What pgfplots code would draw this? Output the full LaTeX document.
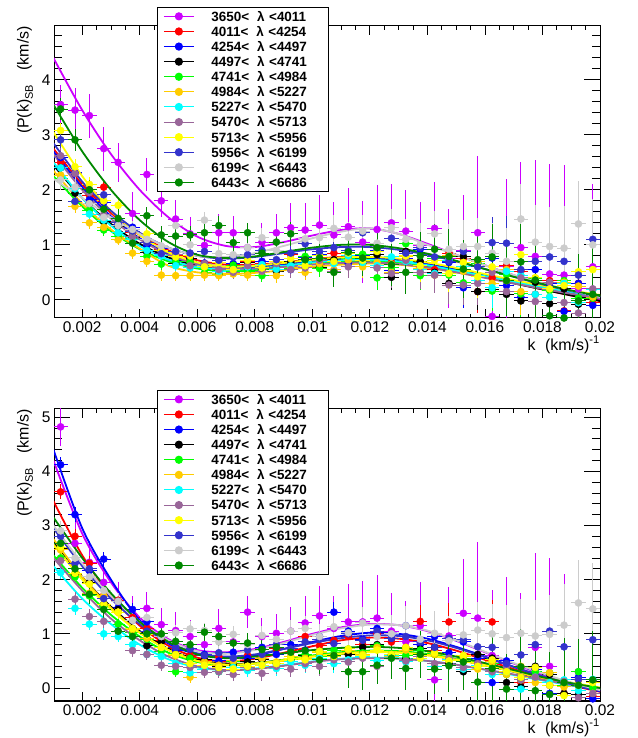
\documentclass[border=0pt]{standalone}
\usepackage{fontspec}
\setmainfont{Liberation Sans}
\usepackage{pgfplots}
\usepackage{pgfplotstable}
\pgfplotsset{compat=1.18}
\definecolor{cM}{RGB}{204,0,255}
\definecolor{cR}{RGB}{255,0,0}
\definecolor{cB}{RGB}{0,0,255}
\definecolor{cK}{RGB}{0,0,0}
\definecolor{cG}{RGB}{0,255,0}
\definecolor{cO}{RGB}{255,204,0}
\definecolor{cC}{RGB}{0,255,255}
\definecolor{cP}{RGB}{153,102,153}
\definecolor{cY}{RGB}{255,255,0}
\definecolor{cD}{RGB}{51,51,204}
\definecolor{cGr}{RGB}{204,204,204}
\definecolor{cDG}{RGB}{0,136,0}

\pgfplotstableread{
k tM tR tB tK tG tO tC tP tY tD tGr tDG bM bR bB bK bG bO bC bP bY bD bGr bDG eM e8 e9 e10 e12 e13
0.00125 3.55 2.50 2.59 2.40 2.21 2.27 2.40 2.62 3.08 2.91 2.18 3.47 4.82 3.62 4.12 2.58 2.40 2.55 2.13 2.35 2.60 2.80 2.90 2.67 0.35 0.12 0.14 0.15 0.18 0.20
0.00175 3.45 2.30 2.31 1.94 1.78 1.70 2.02 2.30 2.42 1.79 2.05 2.91 2.67 2.80 3.20 2.10 2.05 2.12 1.47 1.64 2.12 2.30 2.40 2.20 0.40 0.12 0.14 0.15 0.18 0.20
0.00225 3.35 1.90 1.82 1.75 1.63 1.40 1.56 1.95 2.10 2.00 1.75 2.00 2.32 2.30 2.17 1.95 1.70 1.75 1.18 1.32 1.92 2.20 2.05 1.73 0.40 0.11 0.13 0.14 0.17 0.18
0.00275 2.75 2.05 1.77 1.42 1.27 1.32 1.45 1.55 1.80 1.91 1.50 1.65 1.95 1.71 2.38 1.55 1.50 1.70 1.00 1.23 1.55 1.65 1.80 1.45 0.40 0.11 0.13 0.14 0.17 0.18
0.00325 2.50 1.40 1.37 1.34 1.16 1.09 1.22 1.42 1.72 1.40 1.35 1.48 1.60 1.62 1.48 1.45 1.18 1.40 0.95 1.05 1.40 1.60 1.60 1.05 0.35 0.10 0.12 0.13 0.16 0.17
0.00375 1.57 1.22 1.32 1.14 1.12 0.85 1.10 1.15 1.25 1.25 1.28 1.03 1.30 1.30 1.45 1.10 1.02 1.08 0.80 0.69 1.10 1.25 1.25 0.95 0.40 0.10 0.12 0.13 0.16 0.17
0.00425 2.28 1.05 0.99 0.86 0.79 0.70 0.90 1.05 1.20 1.05 1.10 1.53 1.47 1.10 1.22 0.78 0.90 0.92 0.62 0.62 0.98 1.05 1.30 1.00 0.30 0.10 0.11 0.12 0.14 0.16
0.00475 1.80 0.92 0.93 0.89 0.65 0.45 0.80 0.85 0.90 0.84 0.98 1.18 1.17 0.88 0.95 0.85 0.68 0.75 0.58 0.42 0.75 0.95 0.95 1.00 0.30 0.10 0.11 0.12 0.14 0.16
0.00525 1.47 0.80 0.72 0.67 0.70 0.44 0.62 0.82 0.78 0.88 1.35 1.16 1.06 0.72 0.70 0.62 0.30 0.60 0.45 0.40 0.62 0.75 1.02 0.86 0.35 0.10 0.11 0.12 0.14 0.16
0.00575 1.20 0.70 0.76 0.75 0.69 0.44 0.58 0.62 0.80 0.85 1.00 1.18 0.95 0.60 0.72 0.55 0.55 0.20 0.28 0.38 0.45 0.72 1.09 0.80 0.30 0.10 0.11 0.12 0.14 0.16
0.00625 0.99 0.62 0.67 0.62 0.49 0.45 0.62 0.66 0.60 0.88 1.45 1.22 0.80 0.50 0.62 0.52 0.42 0.48 0.35 0.29 0.42 0.60 1.06 1.03 0.30 0.10 0.11 0.12 0.14 0.16
0.00675 1.22 0.72 0.51 0.46 0.46 0.44 0.52 0.55 0.68 0.72 0.84 1.35 1.10 0.58 0.50 0.40 0.30 0.42 0.30 0.30 0.38 0.65 0.85 0.95 0.35 0.10 0.12 0.13 0.16 0.17
0.00725 1.22 0.58 0.66 0.63 0.63 0.47 0.55 0.50 0.55 0.78 0.82 1.04 0.85 0.45 0.66 0.42 0.48 0.50 0.38 0.25 0.35 0.55 0.99 0.83 0.30 0.10 0.12 0.13 0.16 0.17
0.00775 0.95 0.70 0.56 0.68 0.52 0.45 0.60 0.62 0.72 0.82 0.95 1.22 1.40 0.60 0.55 0.48 0.40 0.40 0.32 0.38 0.40 0.70 0.80 0.83 0.30 0.11 0.13 0.14 0.17 0.18
0.00825 1.05 0.66 0.70 0.55 0.44 0.52 0.64 0.52 0.58 0.90 1.13 0.85 0.95 0.52 0.75 0.52 0.55 0.55 0.42 0.27 0.42 0.62 0.97 0.71 0.35 0.12 0.14 0.15 0.18 0.20
0.00875 1.22 0.60 0.65 0.52 0.66 0.44 0.56 0.66 0.70 0.73 0.90 1.05 1.01 0.72 0.62 0.45 0.45 0.48 0.36 0.40 0.45 0.80 0.90 0.75 0.35 0.13 0.14 0.16 0.19 0.21
0.00925 1.31 0.82 0.55 0.69 0.57 0.58 0.62 0.55 0.75 0.85 1.20 1.20 1.05 0.65 0.80 0.52 0.52 0.58 0.48 0.35 0.55 0.72 1.05 0.66 0.45 0.14 0.15 0.17 0.20 0.22
0.00975 1.27 0.74 0.77 0.74 0.79 0.50 0.70 0.58 0.62 1.02 1.11 0.73 1.20 0.95 0.70 0.60 0.62 0.55 0.42 0.45 0.52 0.85 1.10 0.69 0.50 0.14 0.16 0.18 0.22 0.23
0.01025 1.36 0.66 0.83 0.59 0.57 0.66 0.75 0.72 0.80 0.88 1.13 0.76 1.33 0.78 0.95 0.68 0.58 0.65 0.55 0.40 0.68 0.90 0.95 0.52 0.55 0.16 0.18 0.20 0.24 0.26
0.01075 1.18 0.85 0.71 0.73 0.52 0.55 0.66 0.52 0.70 0.95 1.30 0.50 1.10 0.88 1.40 0.58 0.70 0.60 0.45 0.52 0.58 0.82 1.13 0.60 0.60 0.17 0.19 0.21 0.25 0.27
0.01125 1.33 0.80 0.66 0.84 0.75 0.72 0.80 0.60 0.85 0.90 1.14 0.87 1.22 0.95 1.05 0.62 0.72 0.70 0.52 0.48 0.72 1.00 1.02 0.30 0.70 0.18 0.21 0.23 0.28 0.30
0.01175 1.05 0.70 0.81 0.66 0.83 0.60 0.68 0.75 0.72 1.22 1.25 0.76 1.22 0.80 0.90 0.75 0.65 0.62 0.58 0.55 0.60 0.88 1.20 0.30 0.75 0.20 0.23 0.25 0.30 0.33
0.01225 1.28 0.95 0.90 0.82 0.40 0.68 0.62 0.58 0.88 0.95 1.03 0.95 1.29 1.00 1.10 0.80 0.78 0.75 0.50 0.40 0.70 1.05 0.95 0.42 0.80 0.22 0.24 0.27 0.32 0.35
0.01275 1.40 0.68 0.53 0.41 0.59 0.50 0.78 0.48 0.65 1.12 1.31 0.64 1.05 0.85 0.92 0.60 0.62 0.58 0.60 0.62 0.62 0.92 1.00 0.55 0.70 0.23 0.26 0.29 0.35 0.38
0.01325 1.25 0.88 0.75 0.88 1.02 0.78 0.70 0.72 0.80 0.85 1.10 0.50 0.85 0.75 1.15 0.55 0.60 0.70 0.48 0.50 0.75 0.95 1.15 0.36 0.75 0.25 0.28 0.31 0.37 0.40
0.01375 0.98 0.60 0.92 0.70 0.44 0.57 0.55 0.50 0.62 0.95 1.00 0.80 1.15 1.23 0.80 0.72 0.70 0.55 0.55 0.58 0.55 0.85 0.90 0.62 0.80 0.26 0.30 0.33 0.40 0.43
0.01425 1.30 0.55 0.48 0.50 0.75 0.45 0.48 0.45 0.72 0.78 1.20 0.92 0.15 0.70 0.95 0.75 0.62 0.62 0.40 0.45 0.65 0.75 1.01 0.35 0.85 0.28 0.32 0.35 0.42 0.46
0.01475 0.75 0.85 0.68 0.30 0.45 0.80 0.72 0.27 0.48 0.70 0.92 0.79 0.96 1.22 0.65 0.45 0.52 0.50 0.52 0.55 0.50 0.92 0.87 0.41 0.90 0.30 0.34 0.38 0.46 0.49
0.01525 0.90 0.75 0.22 0.79 0.31 0.52 0.60 0.27 0.68 0.88 0.97 0.56 1.38 0.55 0.85 0.30 0.55 0.58 0.35 0.38 0.60 0.89 0.98 0.48 1.00 0.32 0.36 0.40 0.48 0.52
0.01575 1.22 0.15 0.67 0.15 0.66 0.70 0.35 0.30 0.42 0.60 0.97 0.73 1.29 0.45 0.55 0.62 0.40 0.35 0.42 0.45 0.40 0.76 1.07 0.11 1.40 0.34 0.39 0.43 0.52 0.56
0.01625 -0.30 0.40 0.76 0.18 0.16 0.30 0.22 0.50 0.60 1.04 0.85 0.78 0.60 1.22 0.10 0.55 0.45 0.48 0.25 0.30 0.52 0.75 1.00 0.36 1.20 0.37 0.41 0.46 0.55 0.60
0.01675 0.60 0.62 0.26 0.10 0.46 0.55 0.52 0.15 0.35 1.03 0.70 0.35 0.45 0.30 0.50 0.10 0.25 0.25 0.30 0.40 0.30 0.45 0.93 -0.02 1.60 0.40 0.45 0.50 0.60 0.65
0.01725 0.95 0.52 0.05 -0.02 0.11 0.15 0.45 0.40 0.82 0.55 1.47 0.69 0.20 0.10 0.20 0.02 0.15 0.40 -0.02 0.15 0.20 0.61 1.01 0.39 1.55 0.42 0.48 0.53 0.64 0.69
0.01775 0.79 0.10 0.55 0.32 0.39 0.40 0.10 -0.03 0.40 0.70 1.05 0.36 0.75 0.35 0.35 0.40 0.30 0.10 0.20 0.20 0.38 0.80 0.96 -0.05 1.75 0.45 0.50 0.56 0.67 0.73
0.01825 0.47 0.35 0.30 -0.07 0.17 0.05 0.05 0.32 0.20 0.78 0.97 -0.29 0.40 0.05 -0.10 0.25 0.28 0.28 0.10 0.05 0.05 1.05 0.99 -0.12 2.00 0.48 0.54 0.60 0.72 0.78
0.01875 0.45 -0.20 -0.21 0.20 0.35 0.32 0.30 -0.05 0.26 0.70 0.94 -0.33 0.10 -0.10 0.05 -0.10 0.05 0.02 0.15 0.12 -0.14 0.76 1.16 0.10 2.00 0.50 0.57 0.63 0.76 0.82
0.01925 0.20 0.30 0.30 -0.08 0.03 0.25 -0.05 -0.24 0.51 0.45 1.38 -0.02 0.30 0.15 0.20 -0.12 0.30 0.15 -0.05 -0.18 0.05 0.16 1.57 0.05 1.60 0.53 0.59 0.66 0.79 0.86
0.01975 0.60 -0.05 -0.10 0.05 0.03 0.05 0.18 0.20 0.55 1.10 1.00 0.10 0.15 -0.15 -0.20 0.12 0.00 -0.10 0.16 -0.10 0.10 0.89 1.46 0.15 1.50 0.56 0.63 0.70 0.84 0.91
}\pdata

\pgfplotstableread{
k tM tR tB tK tG tO tC tP tY tD tGr tDG bM bR bB bK bG bO bC bP bY bD bGr bDG
0.001 4.40 2.75 2.70 2.45 2.25 2.35 2.50 2.65 3.05 2.85 2.20 3.55 4.20 3.45 4.40 2.70 2.45 2.75 2.25 2.40 2.65 2.95 3.00 3.15
0.002 3.45 2.10 2.05 1.85 1.70 1.75 1.85 2.00 2.25 2.15 1.85 2.70 2.85 2.45 2.95 2.05 1.85 2.05 1.65 1.80 2.00 2.25 2.30 2.40
0.003 2.65 1.58 1.52 1.38 1.25 1.28 1.35 1.48 1.62 1.62 1.50 2.00 1.95 1.70 2.00 1.50 1.35 1.48 1.18 1.28 1.45 1.65 1.70 1.75
0.004 2.00 1.18 1.12 1.02 0.92 0.93 0.98 1.10 1.18 1.22 1.20 1.45 1.30 1.15 1.25 1.05 0.95 1.02 0.80 0.88 1.02 1.18 1.22 1.22
0.005 1.50 0.90 0.84 0.77 0.70 0.62 0.73 0.82 0.86 0.95 0.95 1.05 0.90 0.78 0.82 0.72 0.65 0.70 0.53 0.58 0.70 0.84 0.88 0.85
0.006 1.15 0.72 0.67 0.62 0.57 0.50 0.60 0.65 0.68 0.80 0.80 0.82 0.70 0.56 0.62 0.52 0.48 0.50 0.38 0.40 0.50 0.64 0.68 0.62
0.007 0.98 0.64 0.60 0.56 0.52 0.47 0.55 0.57 0.60 0.75 0.78 0.76 0.66 0.49 0.56 0.45 0.42 0.43 0.33 0.33 0.43 0.58 0.63 0.55
0.008 0.96 0.64 0.60 0.57 0.54 0.49 0.57 0.57 0.62 0.78 0.85 0.79 0.72 0.54 0.60 0.46 0.45 0.45 0.36 0.35 0.45 0.62 0.70 0.58
0.009 1.05 0.68 0.65 0.62 0.60 0.54 0.62 0.60 0.67 0.85 0.98 0.87 0.85 0.65 0.72 0.52 0.52 0.51 0.42 0.41 0.51 0.72 0.83 0.64
0.010 1.17 0.74 0.71 0.68 0.66 0.60 0.68 0.64 0.73 0.92 1.12 0.95 1.00 0.77 0.85 0.59 0.60 0.58 0.49 0.48 0.58 0.83 0.98 0.70
0.011 1.27 0.78 0.75 0.72 0.70 0.64 0.72 0.67 0.77 0.96 1.24 1.00 1.12 0.88 0.96 0.65 0.66 0.64 0.54 0.53 0.63 0.92 1.10 0.74
0.012 1.30 0.78 0.76 0.73 0.71 0.66 0.73 0.68 0.78 0.96 1.30 1.00 1.18 0.93 1.02 0.68 0.69 0.67 0.56 0.55 0.66 0.97 1.17 0.76
0.013 1.20 0.74 0.72 0.70 0.68 0.64 0.70 0.65 0.75 0.91 1.20 0.94 1.16 0.91 1.00 0.67 0.68 0.66 0.55 0.54 0.65 0.96 1.16 0.74
0.014 1.02 0.66 0.65 0.62 0.62 0.58 0.63 0.59 0.68 0.82 1.00 0.84 1.05 0.83 0.91 0.62 0.63 0.61 0.50 0.50 0.60 0.88 1.06 0.68
0.015 0.82 0.55 0.55 0.52 0.53 0.50 0.53 0.50 0.58 0.70 0.82 0.71 0.87 0.69 0.76 0.53 0.54 0.53 0.43 0.43 0.52 0.74 0.88 0.58
0.016 0.63 0.43 0.44 0.41 0.43 0.41 0.43 0.40 0.47 0.56 0.63 0.56 0.66 0.52 0.58 0.42 0.43 0.42 0.34 0.34 0.42 0.57 0.67 0.46
0.017 0.45 0.31 0.33 0.30 0.33 0.32 0.33 0.30 0.36 0.42 0.45 0.42 0.45 0.35 0.39 0.30 0.31 0.30 0.24 0.25 0.31 0.39 0.46 0.33
0.018 0.28 0.19 0.22 0.19 0.24 0.23 0.23 0.20 0.26 0.28 0.30 0.29 0.25 0.19 0.21 0.17 0.19 0.18 0.14 0.15 0.20 0.22 0.27 0.20
0.019 0.13 0.08 0.12 0.08 0.15 0.15 0.14 0.11 0.17 0.16 0.17 0.17 0.08 0.05 0.06 0.06 0.08 0.07 0.05 0.06 0.10 0.07 0.10 0.09
0.020 0.00 -0.02 0.03 -0.02 0.07 0.07 0.06 0.03 0.09 0.05 0.05 0.07 -0.06 -0.07 -0.06 -0.04 -0.02 -0.03 -0.03 -0.02 0.01 -0.05 -0.04 0.00
}\cdata

% lean error-bar drawing (no nodes per bar)
\pgfplotsset{error bars/draw error bar/.code 2 args={\path[draw, line width=1pt] #1 -- #2;}}

\newcommand{\ser}[3]{%
\addplot[forget plot, only marks, mark=*, mark size=3.6pt, color=#1, mark options={draw=#1, fill=#1},
  error bars/.cd, y dir=both, y explicit, x dir=both, x fixed=0.00025] table[x=k, y=#2, y error=#3] {\pdata};
\addplot[forget plot, no marks, smooth, line width=1.8pt, color=#1] table[x=k, y=#2] {\cdata};
}
\newcommand{\leg}[2]{\addlegendimage{#1, line width=1pt, mark=*, mark size=3.6pt}\addlegendentry{#2}}
\newcommand{\legs}{%
\leg{cM}{3650<\hspace{0.6em}λ <4011}
\leg{cR}{4011<\hspace{0.6em}λ <4254}
\leg{cB}{4254<\hspace{0.6em}λ <4497}
\leg{cK}{4497<\hspace{0.6em}λ <4741}
\leg{cG}{4741<\hspace{0.6em}λ <4984}
\leg{cO}{4984<\hspace{0.6em}λ <5227}
\leg{cC}{5227<\hspace{0.6em}λ <5470}
\leg{cP}{5470<\hspace{0.6em}λ <5713}
\leg{cY}{5713<\hspace{0.6em}λ <5956}
\leg{cD}{5956<\hspace{0.6em}λ <6199}
\leg{cGr}{6199<\hspace{0.6em}λ <6443}
\leg{cDG}{6443<\hspace{0.6em}λ <6686}
}

\pgfplotsset{
  common/.style={
    scale only axis, width=546bp, height=292bp,
    xmin=0.00102, xmax=0.02,
    tick align=inside, xtick pos=both, ytick pos=both,
    every tick/.style={black, line width=0.8pt},
    axis line style={line width=1pt},
    /pgf/number format/assume math mode=true,
    tick label style={font=\fontsize{15.5}{16}\selectfont},
    label style={font=\fontsize{16}{18}\selectfont},
  },
  % frame carrying the x ticks (short ticks) and the x label
  xframe/.style={common,
    ymin=0, ymax=1, ytick=\empty,
    xtick={0.002,0.004,0.006,0.008,0.01,0.012,0.014,0.016,0.018,0.02},
    xticklabels={0.002,0.004,0.006,0.008,0.01,0.012,0.014,0.016,0.018,0.02},
    scaled x ticks=false, minor x tick num=3,
    major tick length=8.8bp, minor tick length=4.4bp,
    xlabel={k\hspace{0.6em}(km/s)\textsuperscript{-1}},
    xlabel style={at={(axis description cs:1,-0.062)}, anchor=north east, inner sep=0pt},
  },
  % data axis carrying the y ticks (long ticks), the y label and the legend
  myaxis/.style={common,
    xtick=\empty,
    ytick={0,1,2,3,4,5}, minor y tick num=4,
    major tick length=16.4bp, minor tick length=8.2bp,
    ylabel={(P(k)\raisebox{-0.5ex}{\fontsize{11}{11}\selectfont SB}\hspace{0.9em}(km/s)},
    ylabel style={at={(axis description cs:-0.053,1)}, anchor=east, inner sep=0pt},
    legend image code/.code={\draw[mark repeat=2,mark phase=2,##1] plot coordinates {(0bp,0bp) (15bp,0bp) (30bp,0bp)};},
    legend cell align=left,
    legend style={at={(axis description cs:0.1886,1.065)}, anchor=north west,
      draw=black, line width=0.8pt, fill=white,
      font=\fontsize{13.5}{15}\selectfont\bfseries,
      inner xsep=6bp, inner ysep=2.8bp, row sep=2.8bp, column sep=17bp,
      nodes={inner sep=0pt, text height=11bp, text depth=1.3bp, text width=111bp, align=left}},
  }
}

\begin{document}
\begin{tikzpicture}
\path[use as bounding box] (0,0) rectangle (638bp,738bp);
% ---------- top panel ----------
\begin{axis}[xframe, at={(54bp,420bp)}, anchor=south west]
\end{axis}
\begin{axis}[myaxis, at={(54bp,420bp)}, anchor=south west, ymin=-0.33, ymax=4.98]
\legs
\ser{cM}{tM}{eM}
\ser{cR}{tR}{e9}
\ser{cB}{tB}{e9}
\ser{cK}{tK}{e8}
\ser{cG}{tG}{e8}
\ser{cO}{tO}{e8}
\ser{cC}{tC}{e8}
\ser{cP}{tP}{e9}
\ser{cY}{tY}{e9}
\ser{cD}{tD}{e10}
\ser{cGr}{tGr}{e12}
\ser{cDG}{tDG}{e13}
\end{axis}
% ---------- bottom panel ----------
\begin{axis}[xframe, at={(54bp,37bp)}, anchor=south west]
\end{axis}
\begin{axis}[myaxis, at={(54bp,37bp)}, anchor=south west, ymin=-0.24, ymax=5.15]
\legs
\ser{cM}{bM}{eM}
\ser{cR}{bR}{e9}
\ser{cB}{bB}{e9}
\ser{cK}{bK}{e8}
\ser{cG}{bG}{e8}
\ser{cO}{bO}{e8}
\ser{cC}{bC}{e8}
\ser{cP}{bP}{e9}
\ser{cY}{bY}{e9}
\ser{cD}{bD}{e10}
\ser{cGr}{bGr}{e12}
\ser{cDG}{bDG}{e13}
\end{axis}
\end{tikzpicture}
\end{document}
